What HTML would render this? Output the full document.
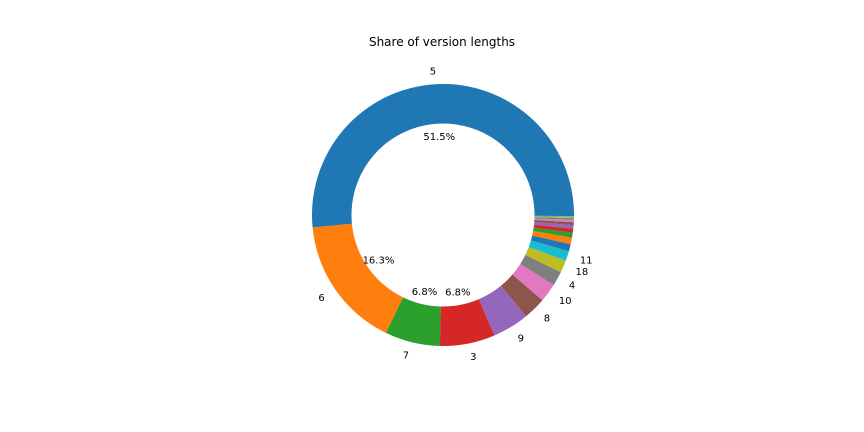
<!DOCTYPE html>
<html><head><meta charset="utf-8"><style>
body{margin:0;background:#fff;}
svg{display:block;font-family:"DejaVu Sans","Liberation Sans",sans-serif;}
</style></head><body>
<svg id="chart" width="864" height="432">
<text x="442" y="46" text-anchor="middle" font-size="12">Share of version lengths</text>
<g id="slices"></g>
<g id="labels"></g>
</svg>
<script>
const categories = ["5","6","7","3","9","8","10","4","18","11","12","13","14","15","16","17","19","20","21","22","23"];
const values = [51.52,16.3,6.8,6.8,4.5,2.8,2.3,1.8,1.5,1.2,0.9,0.8,0.6,0.5,0.45,0.35,0.3,0.2,0.15,0.1,0.13];
const showLabel = [true,true,true,true,true,true,true,true,true,true,false,false,false,false,false,false,false,false,false,false,false];
const colors = ["#1f77b4","#ff7f0e","#2ca02c","#d62728","#9467bd","#8c564b","#e377c2","#7f7f7f","#bcbd22","#17becf"];
const cx=443, cy=215, R=131, r=91.5;
const NS="http://www.w3.org/2000/svg";
const total = values.reduce((a,b)=>a+b,0);
const gS=document.getElementById('slices'), gL=document.getElementById('labels');
function pt(rad,ang){return [cx+rad*Math.cos(ang), cy-rad*Math.sin(ang)];}
let a0=0;
values.forEach((v,i)=>{
  const a1=a0+v/total*2*Math.PI;
  const large=(a1-a0)>Math.PI?1:0;
  const [x0,y0]=pt(R,a0),[x1,y1]=pt(R,a1),[x2,y2]=pt(r,a1),[x3,y3]=pt(r,a0);
  const p=document.createElementNS(NS,'path');
  p.setAttribute('d',`M${x0},${y0} A${R},${R} 0 ${large} 0 ${x1},${y1} L${x2},${y2} A${r},${r} 0 ${large} 1 ${x3},${y3} Z`);
  p.setAttribute('fill',colors[i%10]);
  
  
  gS.appendChild(p);
  const am=(a0+a1)/2;
  if(showLabel[i]){
    const [lx,ly]=pt(R*1.1,am);
    const t=document.createElementNS(NS,'text');
    t.setAttribute('x',lx);t.setAttribute('y',ly+3.5);
    t.setAttribute('font-size','10');
    t.setAttribute('text-anchor',Math.cos(am)>0.01?'start':(Math.cos(am)<-0.01?'end':'middle'));
    t.textContent=categories[i];
    
    
    gL.appendChild(t);
  }
  if(v/total>0.05){
    const [px,py]=pt(R*0.6,am);
    const t=document.createElementNS(NS,'text');
    t.setAttribute('x',px);t.setAttribute('y',py+3.5);
    t.setAttribute('font-size','10');t.setAttribute('text-anchor','middle');
    t.textContent=(v/total*100).toFixed(1)+'%';
    
    
    gL.appendChild(t);
  }
  a0=a1;
});
</script>
</body></html>
